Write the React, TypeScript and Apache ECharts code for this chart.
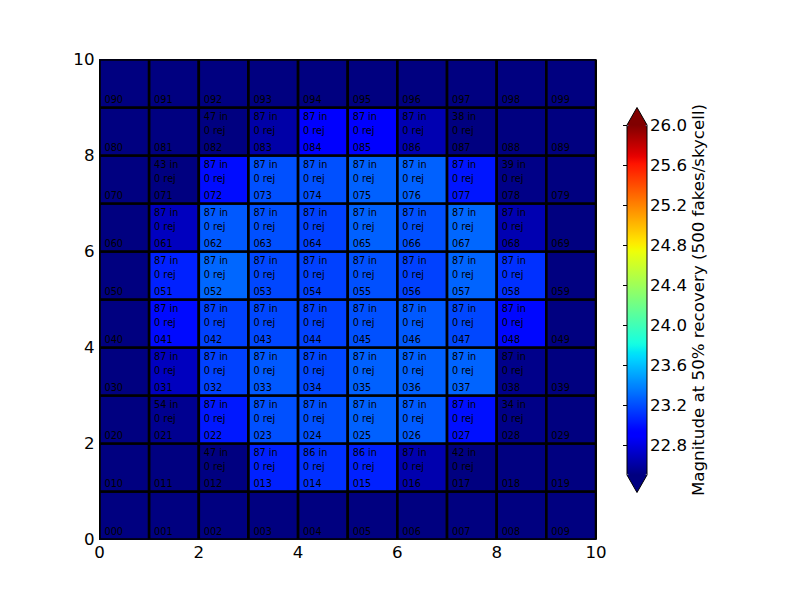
import React, { useEffect, useRef } from "react";
import * as echarts from "echarts";

// ---------- data ----------
const AXIS_TICKS = [0, 2, 4, 6, 8, 10];
const CBAR_TICKS = [22.8, 23.2, 23.6, 24.0, 24.4, 24.8, 25.2, 25.6, 26.0];
const CBAR_MIN = 22.5;
const CBAR_MAX = 26.0;
const CBAR_LABEL = "Magnitude at 50% recovery (500 fakes/skycell)";

// magnitude at 50% recovery per skycell, rows from bottom (row 0) to top (row 9)
const MAG_ROW_0 = [null, null, null, null, null, null, null, null, null, null];
const MAG_ROW_1 = [null, null, 22.5, 23.05, 23.1, 23.05, 22.64, 22.5, null, null];
const MAG_ROW_2 = [null, 22.55, 23.02, 23.21, 23.21, 23.27, 23.25, 22.99, 22.52, null];
const MAG_ROW_3 = [null, 22.69, 23.16, 23.24, 23.18, 23.27, 23.27, 23.28, 22.53, null];
const MAG_ROW_4 = [null, 22.97, 23.16, 23.18, 23.16, 23.21, 23.24, 23.18, 22.96, null];
const MAG_ROW_5 = [null, 23.05, 23.29, 23.18, 23.16, 23.21, 23.16, 23.28, 23.1, null];
const MAG_ROW_6 = [null, 22.69, 23.24, 23.21, 23.16, 23.27, 23.21, 23.29, 22.65, null];
const MAG_ROW_7 = [null, 22.5, 22.98, 23.21, 23.21, 23.27, 23.27, 23.01, 22.52, null];
const MAG_ROW_8 = [null, null, 22.5, 22.62, 22.93, 22.93, 22.65, 22.5, null, null];
const MAG_ROW_9 = [null, null, null, null, null, null, null, null, null, null];

// number of fakes recovered ("in") per skycell
const IN_ROW_0 = [null, null, null, null, null, null, null, null, null, null];
const IN_ROW_1 = [null, null, 47, 87, 86, 86, 87, 42, null, null];
const IN_ROW_2 = [null, 54, 87, 87, 87, 87, 87, 87, 34, null];
const IN_ROW_3 = [null, 87, 87, 87, 87, 87, 87, 87, 87, null];
const IN_ROW_4 = [null, 87, 87, 87, 87, 87, 87, 87, 87, null];
const IN_ROW_5 = [null, 87, 87, 87, 87, 87, 87, 87, 87, null];
const IN_ROW_6 = [null, 87, 87, 87, 87, 87, 87, 87, 87, null];
const IN_ROW_7 = [null, 43, 87, 87, 87, 87, 87, 87, 39, null];
const IN_ROW_8 = [null, null, 47, 87, 87, 87, 87, 38, null, null];
const IN_ROW_9 = [null, null, null, null, null, null, null, null, null, null];

// number of rejected fakes per skycell
const REJ_COUNT = 0;

const MAG_ROWS = [MAG_ROW_0, MAG_ROW_1, MAG_ROW_2, MAG_ROW_3, MAG_ROW_4, MAG_ROW_5, MAG_ROW_6, MAG_ROW_7, MAG_ROW_8, MAG_ROW_9];
const IN_ROWS = [IN_ROW_0, IN_ROW_1, IN_ROW_2, IN_ROW_3, IN_ROW_4, IN_ROW_5, IN_ROW_6, IN_ROW_7, IN_ROW_8, IN_ROW_9];

// ---------- jet colormap (style) ----------
const JET_R: number[][] = [[0, 0], [0.35, 0], [0.66, 1], [0.89, 1], [1, 0.5]];
const JET_G: number[][] = [[0, 0], [0.125, 0], [0.375, 1], [0.64, 1], [0.91, 0], [1, 0]];
const JET_B: number[][] = [[0, 0.5], [0.11, 1], [0.34, 1], [0.65, 0], [1, 0]];
function chan(pts: number[][], t: number) {
  for (let i = 1; i < pts.length; i++) {
    if (t <= pts[i][0]) {
      const [t0, v0] = pts[i - 1];
      const [t1, v1] = pts[i];
      return v0 + ((t - t0) / (t1 - t0)) * (v1 - v0);
    }
  }
  return pts[pts.length - 1][1];
}
function jet(t: number) {
  const c = (v: number) => Math.round(v * 255).toString(16).padStart(2, "0");
  return "#" + c(chan(JET_R, t)) + c(chan(JET_G, t)) + c(chan(JET_B, t));
}
const JET_STOPS: string[] = [];
for (let i = 0; i <= 128; i++) JET_STOPS.push(jet(i / 128));
const UNDER = jet(0);
const OVER = jet(1);

const FONT = "DejaVu Sans";

export default function App() {
  const ref = useRef<HTMLDivElement>(null);
  useEffect(() => {
    if (!ref.current) return;
    const chart = echarts.init(ref.current, null, { renderer: "svg" });

    const data: any[] = [];
    for (let y = 0; y < 10; y++) {
      for (let x = 0; x < 10; x++) {
        const nin = IN_ROWS[y][x];
        data.push([x, y, MAG_ROWS[y][x], nin, nin == null ? null : REJ_COUNT]);
      }
    }

    // colorbar geometry
    const cbL = 627, cbT = 125, cbW = 20, cbH = 350, tri = 17.5;
    const cbCx = cbL + cbW / 2;

    const option: any = {
      animation: false,
      textStyle: { fontFamily: FONT },
      grid: [
        { left: 99.5, top: 59.5, width: 496.5, height: 480, show: true, borderColor: "#000", borderWidth: 1, backgroundColor: "transparent" },
        { left: cbL, top: cbT, width: cbW, height: cbH, show: false },
      ],
      xAxis: [
        {
          type: "value", gridIndex: 0, min: 0, max: 10, interval: 2,
          axisLine: { show: true, lineStyle: { color: "#000", width: 1 } },
          axisTick: { show: false },
          splitLine: { show: false },
          axisLabel: { color: "#000", fontSize: 16.67, fontFamily: FONT, margin: 4 },
        },
        { type: "value", gridIndex: 1, min: 0, max: 1, show: false },
      ],
      yAxis: [
        {
          type: "value", gridIndex: 0, min: 0, max: 10, interval: 2,
          axisLine: { show: true, lineStyle: { color: "#000", width: 1 } },
          axisTick: { show: false },
          splitLine: { show: false },
          axisLabel: { color: "#000", fontSize: 16.67, fontFamily: FONT, margin: 5 },
        },
        {
          type: "value", gridIndex: 1, min: CBAR_MIN, max: CBAR_MAX, position: "right",
          axisLine: { show: false },
          splitLine: { show: false },
          axisTick: { show: true, inside: true, length: 4, lineStyle: { color: "#000", width: 1 }, customValues: CBAR_TICKS },
          axisLabel: {
            color: "#000", fontSize: 16.67, fontFamily: FONT, margin: 3,
            customValues: CBAR_TICKS,
            formatter: (v: number) => v.toFixed(1),
          },
        },
      ],
      visualMap: {
        type: "continuous",
        min: CBAR_MIN,
        max: CBAR_MAX,
        dimension: 2,
        seriesIndex: 0,
        calculable: false,
        orient: "vertical",
        left: cbL,
        top: cbT,
        padding: 0,
        itemWidth: cbW,
        itemHeight: cbH,
        inRange: { color: JET_STOPS },
        outOfRange: { color: UNDER },
        textStyle: { color: "#000" },
      },
      series: [
        {
          type: "custom",
          xAxisIndex: 0,
          yAxisIndex: 0,
          clip: true,
          data,
          encode: { x: 0, y: 1 },
          renderItem: (params: any, api: any) => {
            const x = api.value(0);
            const y = api.value(1);
            const v = api.value(2);
            const nin = api.value(3);
            const rej = api.value(4);
            const tl = api.coord([x, y + 1]);
            const br = api.coord([x + 1, y]);
            let fill = api.visual("color");
            if (v == null || isNaN(v) || v < CBAR_MIN) fill = UNDER;
            const children: any[] = [
              {
                type: "rect",
                shape: { x: tl[0], y: tl[1], width: br[0] - tl[0], height: br[1] - tl[1] },
                style: { fill, stroke: "#000", lineWidth: 2.6 },
              },
            ];
            const tx = (dx: number, dy: number, text: string) => {
              const p = api.coord([x + dx, y + dy]);
              return {
                type: "text",
                x: p[0],
                y: p[1],
                style: { text, fill: "#000", fontSize: 9.7, fontFamily: FONT, align: "left", verticalAlign: "middle" },
              };
            };
            children.push(tx(0.1, 0.177, `0${y}${x}`));
            if (nin != null && !isNaN(nin)) {
              children.push(tx(0.1, 0.817, `${nin} in`));
              children.push(tx(0.1, 0.525, `${rej} rej`));
            }
            return { type: "group", children };
          },
        },
      ],
      graphic: [
        {
          type: "polygon",
          shape: { points: [[cbL, cbT], [cbL + cbW, cbT], [cbCx, cbT - tri]] },
          style: { fill: OVER },
        },
        {
          type: "polygon",
          shape: { points: [[cbL, cbT + cbH], [cbL + cbW, cbT + cbH], [cbCx, cbT + cbH + tri]] },
          style: { fill: UNDER },
        },
        {
          type: "polygon",
          z: 100,
          shape: {
            points: [
              [cbCx, cbT - tri], [cbL + cbW, cbT], [cbL + cbW, cbT + cbH],
              [cbCx, cbT + cbH + tri], [cbL, cbT + cbH], [cbL, cbT],
            ],
          },
          style: { fill: "none", stroke: "#000", lineWidth: 1 },
        },
        {
          type: "text",
          x: 698,
          y: cbT + cbH / 2,
          rotation: Math.PI / 2,
          style: { text: CBAR_LABEL, fill: "#000", fontSize: 16.67, fontFamily: FONT, align: "center", verticalAlign: "middle" },
        },
      ],
    };
    chart.setOption(option);
    return () => chart.dispose();
  }, []);
  return (
    <div
      ref={ref}
      style={{ position: "fixed", left: 0, top: 0, width: 800, height: 600, background: "#fff" }}
    />
  );
}
